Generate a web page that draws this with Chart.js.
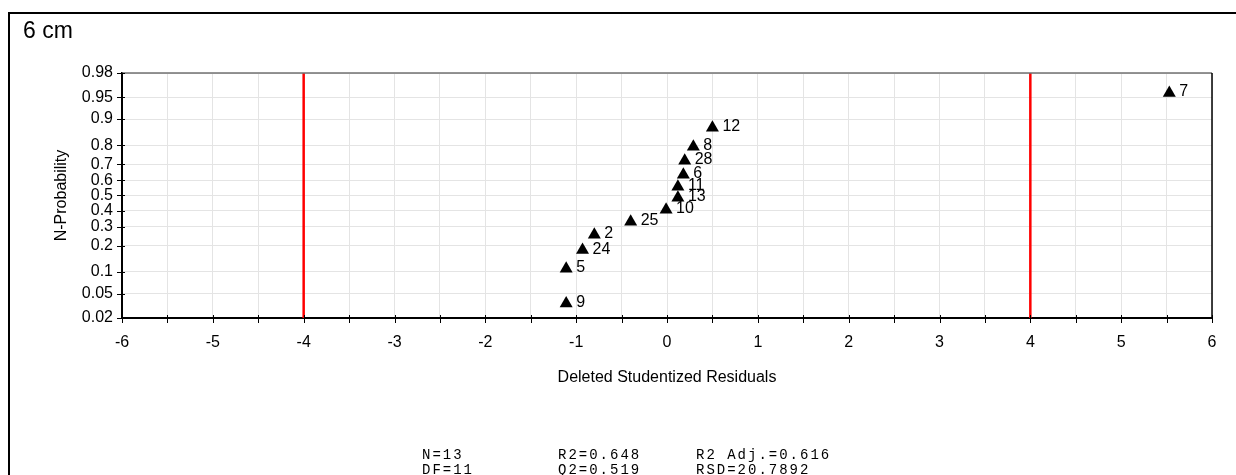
<!DOCTYPE html>
<html>
<head>
<meta charset="utf-8">
<script src="https://cdn.jsdelivr.net/npm/chart.js@4.4.1/dist/chart.umd.min.js"></script>
<style>
  html, body { margin: 0; padding: 0; background: #fff; }
  canvas { display: block; }
</style>
</head>
<body>
<canvas id="npp" width="1236" height="475"></canvas>
<script>
// values
const obsIds = ['9', '5', '24', '2', '25', '10', '13', '11', '6', '28', '8', '12', '7'];
const residuals = [-1.11, -1.11, -0.93, -0.80, -0.40, -0.01, 0.12, 0.12, 0.18, 0.195, 0.29, 0.50, 5.53];
const nProb = [0.035, 0.11, 0.18, 0.255, 0.33, 0.405, 0.485, 0.558, 0.636, 0.72, 0.793, 0.872, 0.957];
const probTicks = [0.02, 0.05, 0.1, 0.2, 0.3, 0.4, 0.5, 0.6, 0.7, 0.8, 0.9, 0.95, 0.98];
const limitLines = [-4, 4];
const statsRows = [
    ['N=13', 'R2=0.648', 'R2 Adj.=0.616'],
    ['DF=11', 'Q2=0.519', 'RSD=20.7892']
];
const panelTitle = '6 cm';

const SANS = '"Liberation Sans", Arial, sans-serif';
const MONO = '"Liberation Mono", "Courier New", monospace';

// --- probability axis helpers (inverse normal, Acklam) ---
function probit(p) {
    const a = [-39.69683028665376, 220.9460984245205, -275.9285104469687, 138.3577518672690, -30.66479806614716, 2.506628277459239];
    const b = [-54.47609879822406, 161.5858368580409, -155.6989798598866, 66.80131188771972, -13.28068155288572];
    const c = [-0.007784894002430293, -0.3223964580411365, -2.400758277161838, -2.549732539343734, 4.374664141464968, 2.938163982698783];
    const d = [0.007784695709041462, 0.3224671290700398, 2.445134137142996, 3.754408661907416];
    const lo = 0.02425;
    if (p < lo) {
        const q = Math.sqrt(-2 * Math.log(p));
        return (((((c[0]*q+c[1])*q+c[2])*q+c[3])*q+c[4])*q+c[5]) / ((((d[0]*q+d[1])*q+d[2])*q+d[3])*q+1);
    }
    if (p > 1 - lo) {
        const q = Math.sqrt(-2 * Math.log(1 - p));
        return -(((((c[0]*q+c[1])*q+c[2])*q+c[3])*q+c[4])*q+c[5]) / ((((d[0]*q+d[1])*q+d[2])*q+d[3])*q+1);
    }
    const q = p - 0.5, r = q * q;
    return (((((a[0]*r+a[1])*r+a[2])*r+a[3])*r+a[4])*r+a[5])*q / (((((b[0]*r+b[1])*r+b[2])*r+b[3])*r+b[4])*r+1);
}
function normCdf(z) {
    const t = 1 / (1 + 0.2316419 * Math.abs(z));
    const dn = 0.3989423 * Math.exp(-z * z / 2);
    const pr = dn * t * (0.3193815 + t * (-0.3565638 + t * (1.781478 + t * (-1.821256 + t * 1.330274))));
    return z > 0 ? 1 - pr : pr;
}

class ProbitScale extends Chart.Scale {
    static id = 'probit';
    static defaults = {};
    determineDataLimits() {
        this.min = this.options.min;
        this.max = this.options.max;
    }
    buildTicks() {
        return probTicks.map(v => ({ value: v }));
    }
    getLabelForValue(v) { return String(v); }
    configure() {
        super.configure();
        this._zLo = probit(this.min);
        this._zHi = probit(this.max);
    }
    getPixelForValue(v) {
        return this.getPixelForDecimal((probit(v) - this._zLo) / (this._zHi - this._zLo));
    }
    getValueForPixel(px) {
        return normCdf(this._zLo + this.getDecimalForPixel(px) * (this._zHi - this._zLo));
    }
}
Chart.register(ProbitScale);

// --- plugins: point ids, frame, crossing ticks, panel text ---
const pointLabels = {
    id: 'pointLabels',
    afterDatasetsDraw(chart) {
        const ctx = chart.ctx;
        ctx.save();
        ctx.font = '16px ' + SANS;
        ctx.fillStyle = '#000';
        ctx.textBaseline = 'middle';
        chart.getDatasetMeta(0).data.forEach((pt, i) => ctx.fillText(obsIds[i], pt.x + 10, pt.y - 1));
        ctx.restore();
    }
};

const frame = {
    id: 'frame',
    afterDraw(chart) {
        const { ctx, chartArea: a } = chart;
        const xs = chart.scales.x, ys = chart.scales.y;
        ctx.save();
        // plot top / right border
        ctx.lineWidth = 1.5;
        ctx.strokeStyle = '#707070';
        ctx.beginPath(); ctx.moveTo(a.left, a.top); ctx.lineTo(a.right, a.top); ctx.stroke();
        ctx.strokeStyle = '#000';
        ctx.beginPath(); ctx.moveTo(a.right, a.top); ctx.lineTo(a.right, a.bottom); ctx.stroke();
        // ticks crossing the axes
        ctx.lineWidth = 1;
        ctx.beginPath();
        xs.ticks.forEach(t => {
            const px = Math.round(xs.getPixelForValue(t.value)) + 0.5;
            ctx.moveTo(px, a.bottom - 3); ctx.lineTo(px, a.bottom + 5);
        });
        ys.ticks.forEach(t => {
            const py = Math.round(ys.getPixelForValue(t.value)) + 0.5;
            ctx.moveTo(a.left - 5, py); ctx.lineTo(a.left + 3, py);
        });
        ctx.stroke();
        // outer panel frame
        ctx.lineWidth = 2;
        ctx.beginPath();
        ctx.moveTo(9, chart.height); ctx.lineTo(9, 13); ctx.lineTo(chart.width, 13);
        ctx.stroke();
        // panel title
        ctx.fillStyle = '#000';
        ctx.font = '23px ' + SANS;
        ctx.textBaseline = 'alphabetic';
        ctx.fillText(panelTitle, 23, 38);
        // model statistics
        ctx.font = '14px ' + MONO;
        ctx.letterSpacing = '2px';
        const cols = [422, 558, 696];
        statsRows.forEach((row, r) => {
            row.forEach((txt, c) => ctx.fillText(txt, cols[c], 459 + r * 15));
        });
        ctx.restore();
    }
};

const pts = residuals.map((x, i) => ({ x: x, y: nProb[i] }));
const limitSets = limitLines.map(x => ({
    type: 'line',
    data: [{ x: x, y: probTicks[0] }, { x: x, y: probTicks[probTicks.length - 1] }],
    showLine: true,
    borderColor: '#ff0000',
    borderWidth: 2.5,
    pointRadius: 0,
    fill: false
}));

new Chart(document.getElementById('npp'), {
    type: 'scatter',
    data: {
        datasets: [{
            data: pts,
            pointStyle: 'triangle',
            pointRadius: 7.5,
            backgroundColor: '#000',
            borderColor: '#000',
            borderWidth: 0
        }].concat(limitSets)
    },
    options: {
        responsive: false,
        animation: false,
        devicePixelRatio: 1,
        events: [],
        layout: { padding: { top: 73, right: 24, bottom: 0, left: 0 } },
        plugins: { legend: { display: false }, tooltip: { enabled: false } },
        scales: {
            x: {
                type: 'linear', position: 'bottom', min: -6, max: 6,
                afterFit: s => { s.height = 157; },
                ticks: {
                    stepSize: 0.5, autoSkip: false, maxRotation: 0, padding: 15, color: '#000',
                    font: { family: SANS, size: 16 },
                    callback: v => Number.isInteger(v) ? String(v) : ''
                },
                grid: { color: '#e4e4e4', drawTicks: false },
                border: { color: '#000', width: 2 },
                title: {
                    display: true, text: 'Deleted Studentized Residuals', color: '#000',
                    font: { family: SANS, size: 16 }, padding: { top: 0, bottom: 88 }
                }
            },
            y: {
                type: 'probit', position: 'left', min: 0.02, max: 0.98,
                afterFit: s => { s.width = 122; },
                ticks: { autoSkip: false, padding: 9, color: '#000', font: { family: SANS, size: 16 } },
                grid: { color: '#e4e4e4', drawTicks: false },
                border: { color: '#000', width: 2 },
                title: {
                    display: true, text: 'N-Probability', color: '#000',
                    font: { family: SANS, size: 16 }, padding: { top: 52, bottom: 0 }
                }
            }
        }
    },
    plugins: [pointLabels, frame]
});
</script>
</body>
</html>
